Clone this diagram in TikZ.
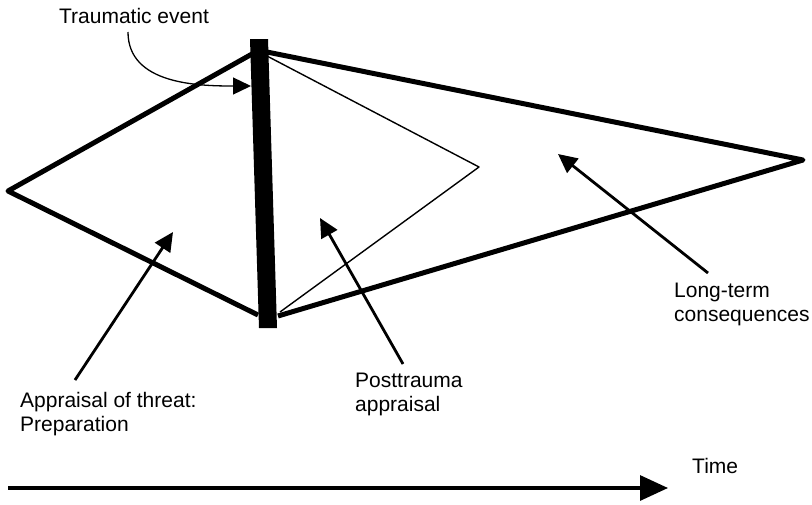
\documentclass[tikz,border=0pt]{standalone}
\usepackage{fontspec}
\setmainfont{Liberation Sans}
\usetikzlibrary{arrows.meta,positioning}

\begin{document}
\begin{tikzpicture}[x=1pt,y=-1pt,
    bold line/.style={line width=5pt,line join=round},
    fine line/.style={line width=1.4pt,line join=round},
    pointer/.style={line width=2.8pt,-{Triangle[length=19pt,width=18pt]}},
    caption/.style={font=\fontsize{21}{24}\selectfont,align=left,inner sep=0pt}]
      \useasboundingbox (0,0) rectangle (812,504);

      % corners of the two shapes
      \coordinate (left)    at (8,191);
      \coordinate (top)     at (252,54);
      \coordinate (bottom)  at (258,315);
      \coordinate (rtop)    at (267,52);
      \coordinate (apex)    at (803,160);
      \coordinate (rbottom) at (278,316);
      \coordinate (knee)    at (479,167);

      \draw[bold line] (top) -- (left) -- (bottom);
      \draw[bold line] (rtop) -- (apex) -- (rbottom);
      \draw[fine line] (267,56) -- (knee) -- (280,312);

      % the event
      \fill (250,39) -- (268,39) -- (277,328) -- (259,328) -- cycle;

      % labels (base is the last line)
      \node[caption,anchor=base]      (event) at (134,23)  {Traumatic event};
      \node[caption,anchor=base west] (prep)  at (20,431)  {Appraisal of threat:\\Preparation};
      \node[caption,anchor=base west] (post)  at (355,411) {Posttrauma\\appraisal};
      \node[caption,anchor=base west] (long)  at (674,321) {Long-term\\consequences};
      \node[caption,anchor=base west] (time)  at (692,473) {Time};

      % arrow ends
      \coordinate (e1) at (128,32);   \coordinate (e2) at (251,86);
      \coordinate (p1) at (75,380);   \coordinate (p2) at (173,232);
      \coordinate (q1) at (403,364);  \coordinate (q2) at (320,218);
      \coordinate (l1) at (708,273);  \coordinate (l2) at (558,154);
      \coordinate (t1) at (8,488);    \coordinate (t2) at (668,488);

      \draw[line width=1.3pt,-{Triangle[length=18pt,width=17pt]}]
            (e1) to[out=-90,in=180] (e2);
      \draw[pointer] (p1) -- (p2);
      \draw[pointer] (q1) -- (q2);
      \draw[pointer] (l1) -- (l2);
      \draw[line width=3.2pt,-{Triangle[length=28pt,width=25pt]}] (t1) -- (t2);
\end{tikzpicture}
\end{document}
